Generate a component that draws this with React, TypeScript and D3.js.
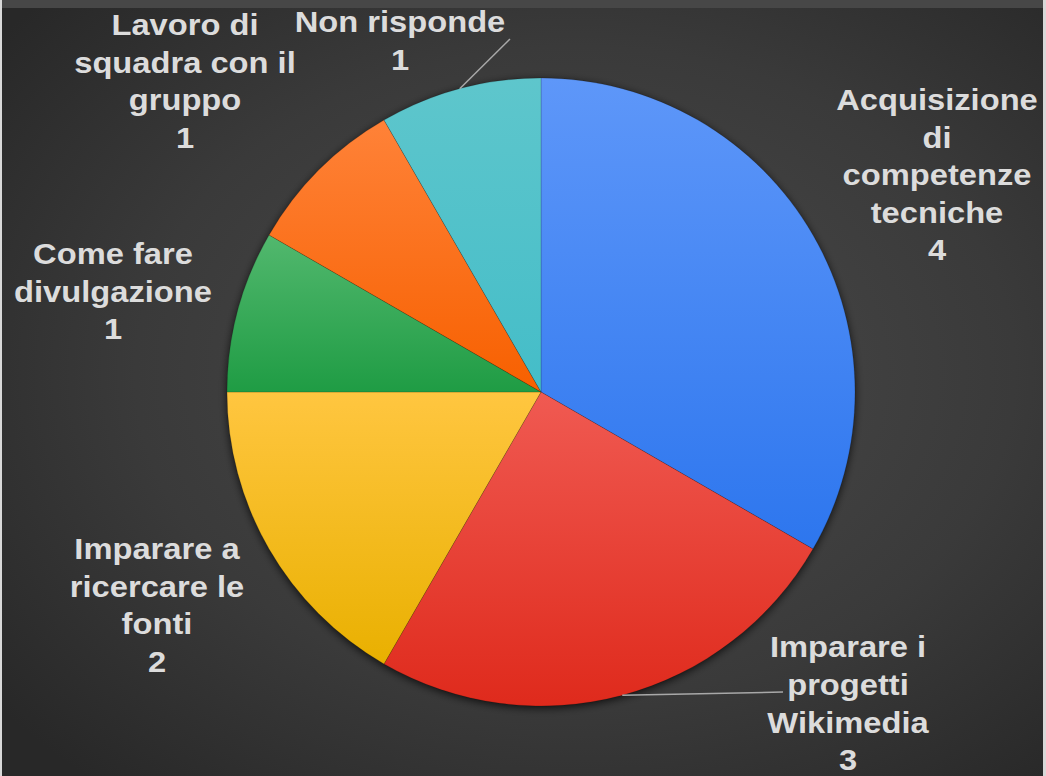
import React from "react";
import * as d3 from "d3";

const categories = [
  "Acquisizione di competenze tecniche",
  "Imparare i progetti Wikimedia",
  "Imparare a ricercare le fonti",
  "Come fare divulgazione",
  "Lavoro di squadra con il gruppo",
  "Non risponde",
];
const values = [4, 3, 2, 1, 1, 1];
const labelLines = [
  ["Acquisizione", "di", "competenze", "tecniche"],
  ["Imparare i", "progetti", "Wikimedia"],
  ["Imparare a", "ricercare le", "fonti"],
  ["Come fare", "divulgazione"],
  ["Lavoro di", "squadra con il", "gruppo"],
  ["Non risponde"],
];
const topColors = ["#5e97f9", "#f05a52", "#ffc640", "#52b86e", "#ff8238", "#5ec6cc"];
const bottomColors = ["#2d76ee", "#df2a1c", "#e9b000", "#1f9c44", "#f76000", "#44bdc8"];
// label anchor (centre of the first line) in pixel space
const labelPos: [number, number][] = [
  [937, 100],
  [848, 647],
  [157, 549],
  [113, 254],
  [185, 25],
  [400, 22],
];

const W = 1046;
const H = 776;
const cx = 541;
const cy = 392;
const R = 314;
const lineH = 37.5;

export default function App() {
  const pie = d3.pie<number>().sort(null).value((d) => d)(values);
  const arc = d3.arc<d3.PieArcDatum<number>>().innerRadius(0).outerRadius(R);

  const pt = (a: number, r: number) => [cx + r * Math.sin(a), cy - r * Math.cos(a)];
  const nonMid = (pie[5].startAngle + pie[5].endAngle) / 2;
  const wikiMid = (pie[1].startAngle + pie[1].endAngle) / 2;
  const n0 = pt(nonMid, R);
  const w0 = pt(wikiMid, R);

  return (
    <div style={{ position: "absolute", left: 0, top: 0 }}>
      <svg width={W} height={H} style={{ display: "block" }}>
        <defs>
          <radialGradient id="bg" cx="55%" cy="48%" r="70%">
            <stop offset="0%" stopColor="#4b4b4b" />
            <stop offset="60%" stopColor="#3a3a3a" />
            <stop offset="100%" stopColor="#282828" />
          </radialGradient>
          {values.map((_, i) => (
            <linearGradient key={i} id={`g${i}`} x1="0" y1="0" x2="0" y2="1">
              <stop offset="0%" stopColor={topColors[i]} />
              <stop offset="100%" stopColor={bottomColors[i]} />
            </linearGradient>
          ))}
          <filter id="shadow" x="-20%" y="-20%" width="140%" height="140%">
            <feGaussianBlur in="SourceAlpha" stdDeviation="4" />
            <feOffset dx="0" dy="2" result="b" />
            <feComponentTransfer>
              <feFuncA type="linear" slope="0.75" />
            </feComponentTransfer>
          </filter>
        </defs>
        <rect x={0} y={0} width={W} height={H} fill="url(#bg)" />
        <rect x={0} y={0} width={W} height={8} fill="#474747" />
        <rect x={0} y={0} width={2} height={H} fill="#d8d8d8" />
        <rect x={W - 3} y={0} width={3} height={H} fill="#d8d8d8" />

        <circle cx={cx} cy={cy} r={R} fill="#000" filter="url(#shadow)" />
        <g transform={`translate(${cx},${cy})`}>
          {pie.map((p, i) => (
            <path
              key={categories[i]}
              d={arc(p) || ""}
              fill={`url(#g${i})`}
              stroke="rgba(0,0,0,0.25)"
              strokeWidth={0.6}
            />
          ))}
        </g>

        <line x1={n0[0]} y1={n0[1]} x2={510} y2={39} stroke="#a8a8a8" strokeWidth={1.5} />
        <line x1={w0[0]} y1={w0[1]} x2={783} y2={692} stroke="#a8a8a8" strokeWidth={1.5} />

        {labelLines.map((lines, i) => (
          <text
            key={i}
            textAnchor="middle"
            fontFamily="'Liberation Sans', Arial, sans-serif"
            fontWeight="bold"
            fontSize={30}
            fill="#dcdcdc"
            transform={`translate(${labelPos[i][0]},0) scale(1.09,1)`}
          >
            {[...lines, String(values[i])].map((l, j) => (
              <tspan key={j} x={0} y={labelPos[i][1] + j * lineH} dy="0.35em">
                {l}
              </tspan>
            ))}
          </text>
        ))}
      </svg>
    </div>
  );
}
